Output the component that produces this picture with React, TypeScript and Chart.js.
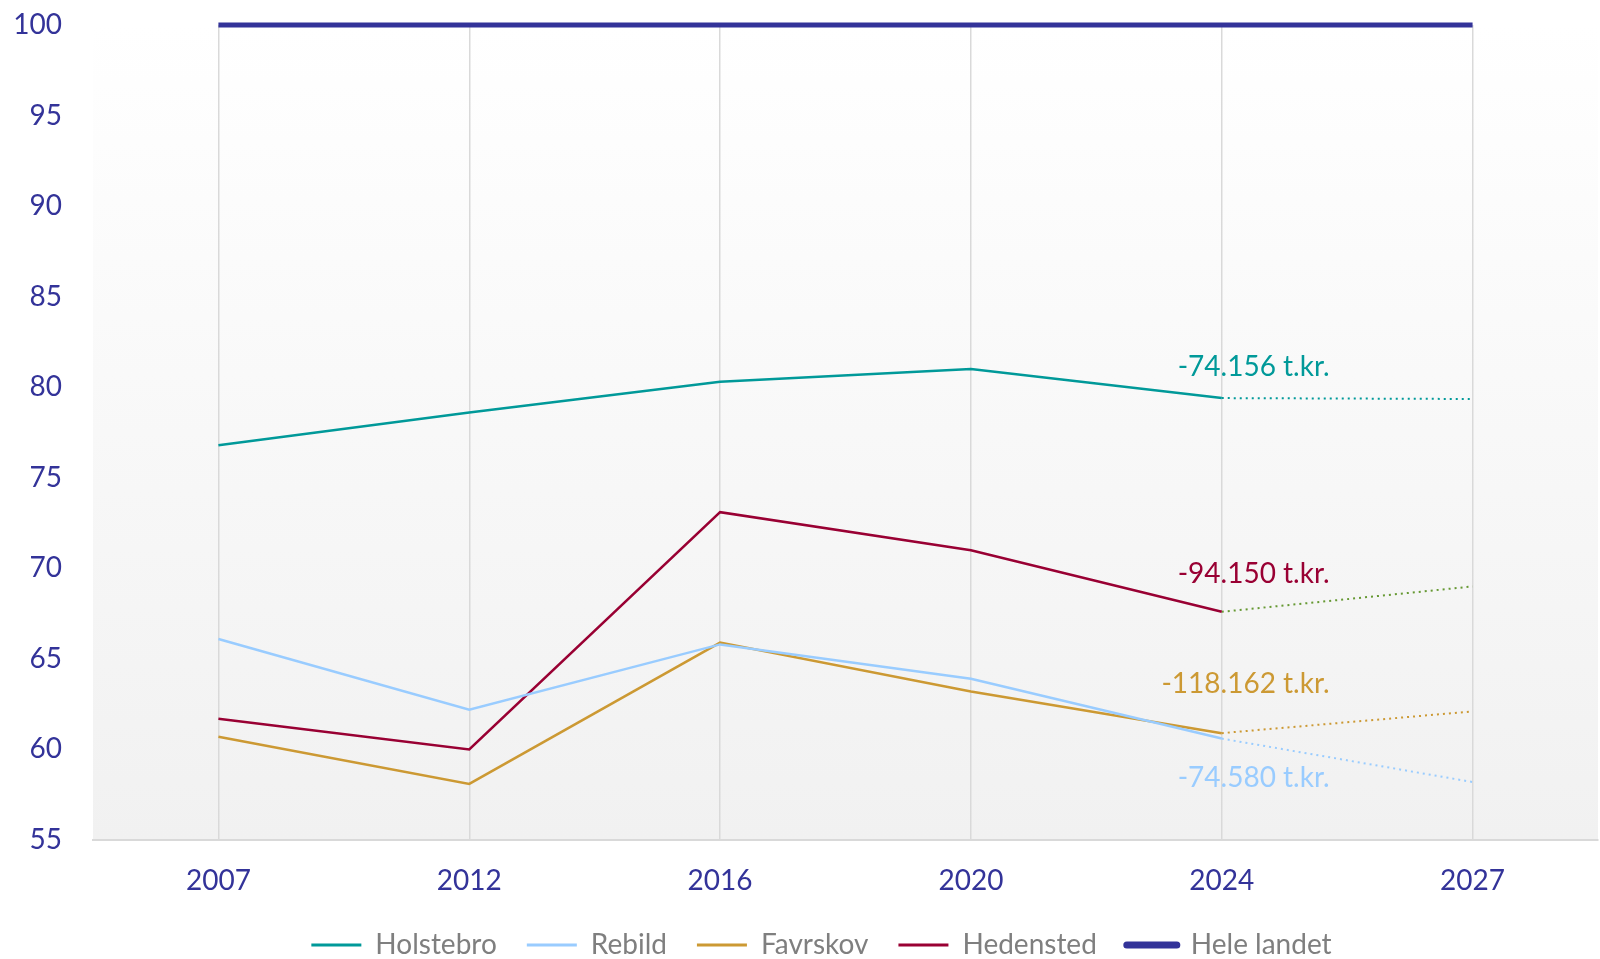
import React, { useEffect, useRef } from 'react';
import { Chart, registerables } from 'chart.js';

Chart.register(...registerables);

const years = ['2007', '2012', '2016', '2020', '2024', '2027'];
const holstebro = [76.8, 78.6, 80.3, 81.0, 79.4, null];
const rebild = [66.1, 62.2, 65.8, 63.9, 60.6, null];
const favrskov = [60.7, 58.1, 65.9, 63.2, 60.9, null];
const hedensted = [61.7, 60.0, 73.1, 71.0, 67.6, null];
const heleLandet = [100, 100, 100, 100, 100, 100];

const holstebroProj = [null, null, null, null, 79.4, 79.35];
const rebildProj = [null, null, null, null, 60.6, 58.2];
const favrskovProj = [null, null, null, null, 60.9, 62.1];
const hedenstedProj = [null, null, null, null, 67.6, 69.0];

const noteTexts = ['-74.156 t.kr.', '-94.150 t.kr.', '-118.162 t.kr.', '-74.580 t.kr.'];
const noteValues = [81.1, 69.7, 63.6, 58.4];
const noteColors = ['#009999', '#990033', '#cc9933', '#99ccff'];

const yTicks = [55, 60, 65, 70, 75, 80, 85, 90, 95, 100];

const FONT = 'Lato';

const bgPlugin = {
  id: 'plotBg',
  afterLayout(chart: any) {
    if (chart.legend) {
      chart.legend.left += 16;
      chart.legend.right += 16;
    }
  },
  beforeDraw(chart: any) {
    const { ctx, chartArea } = chart;
    if (!chartArea) return;
    const g = ctx.createLinearGradient(0, chartArea.top, 0, chartArea.bottom);
    g.addColorStop(0, '#ffffff');
    g.addColorStop(1, '#f1f1f1');
    ctx.save();
    ctx.fillStyle = g;
    ctx.fillRect(chartArea.left, chartArea.top, chartArea.right - chartArea.left, chartArea.bottom - chartArea.top);
    ctx.restore();
  },
};

const notesPlugin = {
  id: 'notes',
  afterDatasetsDraw(chart: any) {
    const { ctx, scales } = chart;
    const x = scales.x.getPixelForValue(4);
    const step = scales.x.getPixelForValue(5) - x;
    ctx.save();
    ctx.font = `28px ${FONT}`;
    ctx.textAlign = 'right';
    ctx.textBaseline = 'middle';
    noteTexts.forEach((t, i) => {
      ctx.fillStyle = noteColors[i];
      ctx.fillText(t, x + step * 0.43, scales.y.getPixelForValue(noteValues[i]));
    });
    ctx.restore();
  },
};

export default function App() {
  const ref = useRef<HTMLCanvasElement>(null);
  useEffect(() => {
    if (!ref.current) return;
    const solid = (label: string, data: any[], color: string, width = 2.5) => ({
      label,
      data,
      borderColor: color,
      backgroundColor: color,
      borderWidth: width,
      pointRadius: 0,
      pointHoverRadius: 0,
      tension: 0,
      spanGaps: false,
    });
    const dotted = (label: string, data: any[], color: string) => ({
      label,
      data,
      borderColor: color,
      backgroundColor: color,
      borderWidth: 2,
      borderDash: [2, 4],
      pointRadius: 0,
      pointHoverRadius: 0,
      tension: 0,
    });
    const chart = new Chart(ref.current, {
      type: 'line',
      data: {
        labels: years,
        datasets: [
          solid('Holstebro', holstebro, '#009999'),
          solid('Rebild', rebild, '#99ccff'),
          solid('Favrskov', favrskov, '#cc9933'),
          solid('Hedensted', hedensted, '#990033'),
          { ...solid('Hele landet', heleLandet, '#333399', 5), clip: false },
          dotted('holstebroProj', holstebroProj, '#009999'),
          dotted('rebildProj', rebildProj, '#99ccff'),
          dotted('favrskovProj', favrskovProj, '#cc9933'),
          dotted('hedenstedProj', hedenstedProj, '#669933'),
        ] as any,
      },
      options: {
        animation: false,
        responsive: true,
        maintainAspectRatio: false,
        layout: { padding: { top: 25, right: 2, left: 13, bottom: -10 } },
        plugins: {
          tooltip: { enabled: false },
          legend: {
            position: 'bottom',
            labels: {
              color: '#7f7f7f',
              font: { family: FONT, size: 28 },
              usePointStyle: true,
              pointStyleWidth: 50,
              padding: 30,
              generateLabels(chart: any) {
                return chart.data.datasets.slice(0, 5).map((ds: any, i: number) => ({
                  text: ds.label,
                  fillStyle: ds.borderColor,
                  strokeStyle: ds.borderColor,
                  fontColor: '#7f7f7f',
                  lineWidth: i === 4 ? 7 : 3,
                  lineCap: i === 4 ? 'round' : 'butt',
                  pointStyle: 'line',
                  hidden: false,
                  datasetIndex: i,
                }));
              },
            },
          },
        },
        scales: {
          x: {
            offset: true,
            afterFit(axis: any) {
              axis.height = 61;
            },
            grid: { display: true, color: '#d9d9d9', lineWidth: 1.5, drawTicks: false, offset: false },
            border: { display: true, color: '#d9d9d9', width: 2 },
            ticks: { color: '#333399', font: { family: FONT, size: 28 }, padding: 24 },
          },
          y: {
            min: 55,
            max: 100,
            afterBuildTicks(axis: any) {
              axis.ticks = yTicks.map((v) => ({ value: v }));
            },
            afterFit(axis: any) {
              axis.width = 80;
              axis.paddingTop = 0;
            },
            grid: { display: false, drawTicks: false },
            border: { display: false },
            ticks: { color: '#333399', font: { family: FONT, size: 28 }, padding: 31 },
          },
        },
      } as any,
      plugins: [bgPlugin, notesPlugin],
    });
    return () => chart.destroy();
  }, []);
  return (
    <div style={{ position: 'fixed', left: 0, top: 0, width: 1600, height: 959, background: '#fff' }}>
      <canvas ref={ref} />
    </div>
  );
}
